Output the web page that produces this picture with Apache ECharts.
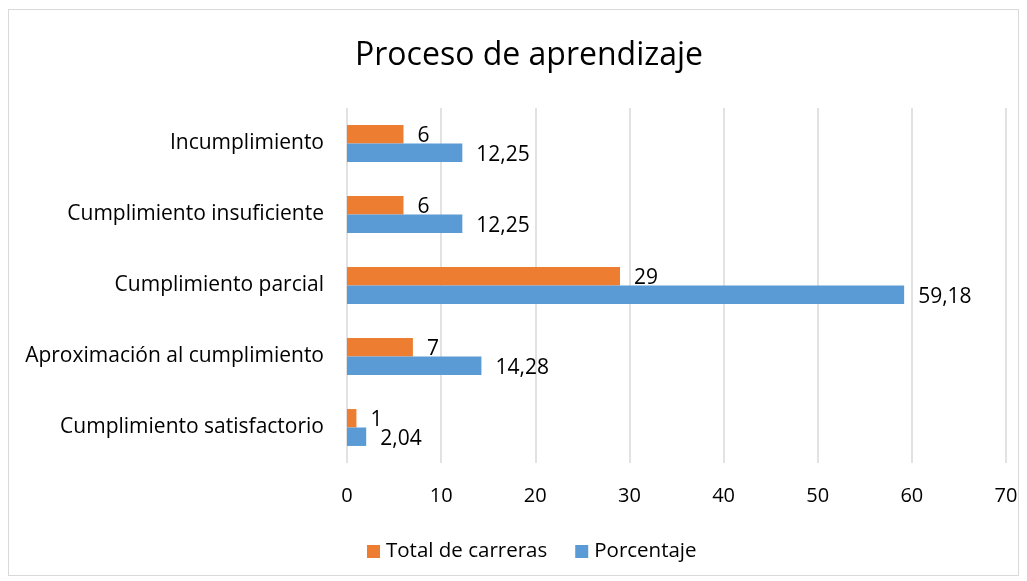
<!DOCTYPE html>
<html lang="es">

<head>
    <meta charset="UTF-8">
    <title>Proceso de aprendizaje</title>
    <style>
        html,
        body {
            margin: 0;
            padding: 0;
            background: #fff;
        }

        #chart {
            position: absolute;
            left: 0;
            top: 0;
            width: 1027px;
            height: 581px;
        }

        .frame {
            position: absolute;
            left: 8px;
            top: 9px;
            width: 1011px;
            height: 567px;
            border: 1px solid #d9d9d9;
            box-sizing: border-box;
            pointer-events: none;
        }
    </style>
</head>

<body>
    <div id="chart"></div>
    <div class="frame"></div>
    <script src="https://cdn.jsdelivr.net/npm/echarts@6/dist/echarts.min.js"></script>
    <script>
        var categories = [
            "Cumplimiento satisfactorio",
            "Aproximación al cumplimiento",
            "Cumplimiento parcial",
            "Cumplimiento insuficiente",
            "Incumplimiento"
        ];
        var totalCarreras = [1, 7, 29, 6, 6];
        var porcentaje = [2.04, 14.28, 59.18, 12.25, 12.25];
        var xTicks = [0, 10, 20, 30, 40, 50, 60, 70];

        var font = "Open Sans";

        function commaLabel(p) {
            return String(p.value).replace(".", ",");
        }

        var chart = echarts.init(document.getElementById("chart"));
        chart.setOption({
            animation: false,
            textStyle: { fontFamily: font },
            title: {
                text: "Proceso de aprendizaje",
                left: 350,
                top: 35,
                textStyle: { fontFamily: font, fontSize: 32, fontWeight: "normal", color: "#000" }
            },
            legend: {
                top: 536,
                left: 362,
                itemWidth: 13,
                itemHeight: 13,
                itemGap: 28,
                icon: "rect",
                textStyle: { fontFamily: font, fontSize: 20.5, color: "#000", padding: [0, 0, 0, 1] },
                data: ["Total de carreras", "Porcentaje"]
            },
            grid: { left: 347, right: 21, top: 108, bottom: 118 },
            xAxis: {
                type: "value",
                min: xTicks[0],
                max: xTicks[xTicks.length - 1],
                interval: 10,
                axisLine: { show: false },
                axisTick: { show: false },
                axisLabel: { color: "#000", fontSize: 20, margin: 23, fontFamily: font },
                splitLine: { lineStyle: { color: "#d9d9d9", width: 1.5 } }
            },
            yAxis: {
                type: "category",
                data: categories,
                axisLine: { show: false },
                axisTick: { show: false },
                axisLabel: { color: "#000", fontSize: 21, margin: 23, fontFamily: font }
            },
            series: [{
                name: "Total de carreras",
                type: "bar",
                data: totalCarreras,
                barGap: "0%",
                barCategoryGap: "48%",
                itemStyle: { color: "#ed7d31" },
                label: {
                    show: true, position: "right", distance: 14, offset: [0, 2],
                    color: "#000", fontSize: 21, fontFamily: font, formatter: commaLabel
                }
            }, {
                name: "Porcentaje",
                type: "bar",
                data: porcentaje,
                barGap: "0%",
                barCategoryGap: "48%",
                itemStyle: { color: "#5b9bd5" },
                label: {
                    show: true, position: "right", distance: 14, offset: [0, 2],
                    color: "#000", fontSize: 21, fontFamily: font, formatter: commaLabel
                }
            }]
        });
    </script>
</body>

</html>
